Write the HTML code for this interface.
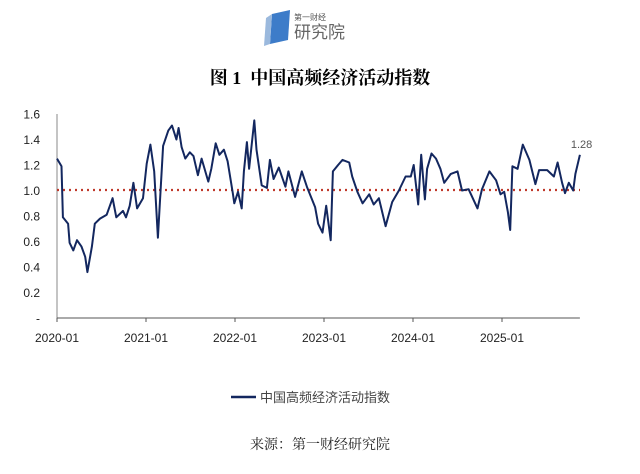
<!DOCTYPE html>
<html><head><meta charset="utf-8"><style>
body{margin:0;background:#fff;width:640px;height:469px;overflow:hidden;font-family:"Liberation Sans","Noto Sans CJK SC",sans-serif;}
</style></head><body>
<svg width="640" height="469" xmlns="http://www.w3.org/2000/svg">
<g>
<path d="M272,14 L290,10 L288,40 L270,44 Z" fill="#3d7cc9"/>
<path d="M266,18 L272,14 L270,44 L264,46 Z" fill="#9bb9dd"/>
<text x="294" y="20" font-size="8" fill="#555" font-family="Liberation Sans,Noto Sans CJK SC,sans-serif">第一财经</text>
<text x="294" y="38" font-size="17" fill="#666" font-family="Liberation Sans,Noto Sans CJK SC,sans-serif">研究院</text>
</g>
<text x="320" y="84" text-anchor="middle" font-size="18" font-weight="bold" fill="#000" font-family="Liberation Serif,Noto Serif CJK SC,serif">图 1&#160;&#160;中国高频经济活动指数</text>
<g id="yax"></g>
<g id="xax"></g>
<line x1="57" y1="190" x2="580" y2="190" stroke="#c0392b" stroke-width="2.2" stroke-dasharray="2,4"/>
<path id="series" fill="none" stroke="#13275f" stroke-width="2" stroke-linejoin="round"/>
<text id="lastlbl" font-size="11" fill="#555"></text>
<g>
<line x1="231" y1="397" x2="256" y2="397" stroke="#13275f" stroke-width="2.5"/>
<text x="260" y="402" font-size="13" fill="#444">中国高频经济活动指数</text>
</g>
<text x="320" y="449" text-anchor="middle" font-size="14" fill="#222" font-family="Liberation Serif,Noto Serif CJK SC,serif">来源：第一财经研究院</text>
</svg>
<script>
const months=[0,0.6,0.8,1.5,1.7,2.2,2.7,3.3,3.8,4.1,4.7,5.1,5.8,6.7,7.5,8.0,8.9,9.3,9.8,10.3,10.8,11.6,12.1,12.6,13.1,13.6,14.3,15.0,15.5,16.1,16.4,16.8,17.3,17.9,18.4,19.0,19.5,20.4,20.8,21.4,21.9,22.5,23.0,23.7,23.9,24.4,24.9,25.2,25.6,25.9,26.6,26.9,27.6,28.3,28.7,29.2,29.9,30.8,31.2,32.1,33.0,33.7,34.8,35.2,35.8,36.3,36.9,37.2,37.9,38.5,39.4,39.8,40.5,41.2,42.1,42.7,43.4,44.3,45.2,46.1,47.0,47.7,48.1,48.7,49.1,49.6,49.9,50.5,51.1,51.7,52.2,53.1,54.0,54.6,55.5,56.7,57.3,58.3,59.2,59.8,60.3,60.8,61.1,61.4,62.1,62.8,63.7,64.5,65.0,66.1,67.0,67.5,68.1,68.5,69.0,69.6,69.9,70.5];
const values=[1.25,1.19,0.79,0.74,0.59,0.53,0.61,0.56,0.48,0.36,0.56,0.74,0.78,0.81,0.94,0.79,0.84,0.79,0.88,1.06,0.86,0.94,1.21,1.36,1.15,0.63,1.35,1.47,1.51,1.40,1.49,1.34,1.25,1.30,1.27,1.12,1.25,1.07,1.17,1.37,1.28,1.32,1.23,0.98,0.90,0.99,0.86,1.15,1.38,1.17,1.55,1.32,1.04,1.02,1.24,1.09,1.18,1.03,1.15,0.95,1.15,1.03,0.87,0.74,0.67,0.88,0.61,1.15,1.20,1.24,1.22,1.11,0.99,0.90,0.97,0.89,0.94,0.72,0.91,1.00,1.11,1.11,1.20,0.89,1.28,0.93,1.17,1.29,1.25,1.17,1.06,1.13,1.15,1.00,1.01,0.86,1.01,1.15,1.08,0.97,0.99,0.83,0.69,1.19,1.17,1.36,1.24,1.05,1.16,1.16,1.11,1.22,1.06,0.98,1.06,1.00,1.13,1.28];
const yTicks=[0,0.2,0.4,0.6,0.8,1.0,1.2,1.4,1.6];
const yTickLabels=["-","0.2","0.4","0.6","0.8","1.0","1.2","1.4","1.6"];
const xTickMonths=[0,12,24,36,48,60];
const xTickLabels=["2020-01","2021-01","2022-01","2023-01","2024-01","2025-01"];
const lastLabel="1.28";
const NS="http://www.w3.org/2000/svg";
const xs=m=>57+m*89/12;
const ys=v=>318-v*127.5;
const yax=document.getElementById('yax'),xax=document.getElementById('xax');
function mk(tag,attrs,parent){const e=document.createElementNS(NS,tag);for(const k in attrs)e.setAttribute(k,attrs[k]);parent.appendChild(e);return e;}
let l=mk('line',{x1:57,y1:ys(1.6),x2:57,y2:318,stroke:'#888','stroke-width':1},yax);


yTicks.forEach((v,i)=>{const t=mk('text',{x:40,y:ys(v)+4.5,'text-anchor':'end','font-size':12,fill:'#222'},yax);t.textContent=yTickLabels[i];

});
let xl=mk('line',{x1:57,y1:318,x2:xs(70.5),y2:318,stroke:'#555','stroke-width':1},xax);


xTickMonths.forEach((m,i)=>{const tk=mk('line',{x1:xs(m),y1:318,x2:xs(m),y2:322,stroke:'#555'},xax);


const t=mk('text',{x:xs(m),y:342,'text-anchor':'middle','font-size':12,fill:'#222'},xax);t.textContent=xTickLabels[i];

});
document.getElementById('series').setAttribute('d',months.map((m,i)=>(i?'L':'M')+xs(m).toFixed(1)+','+ys(values[i]).toFixed(1)).join(''));
const ll=document.getElementById('lastlbl');const n=months.length-1;
ll.setAttribute('x',xs(months[n])-9);ll.setAttribute('y',ys(values[n])-7);ll.textContent=lastLabel;
</script>
</body></html>
